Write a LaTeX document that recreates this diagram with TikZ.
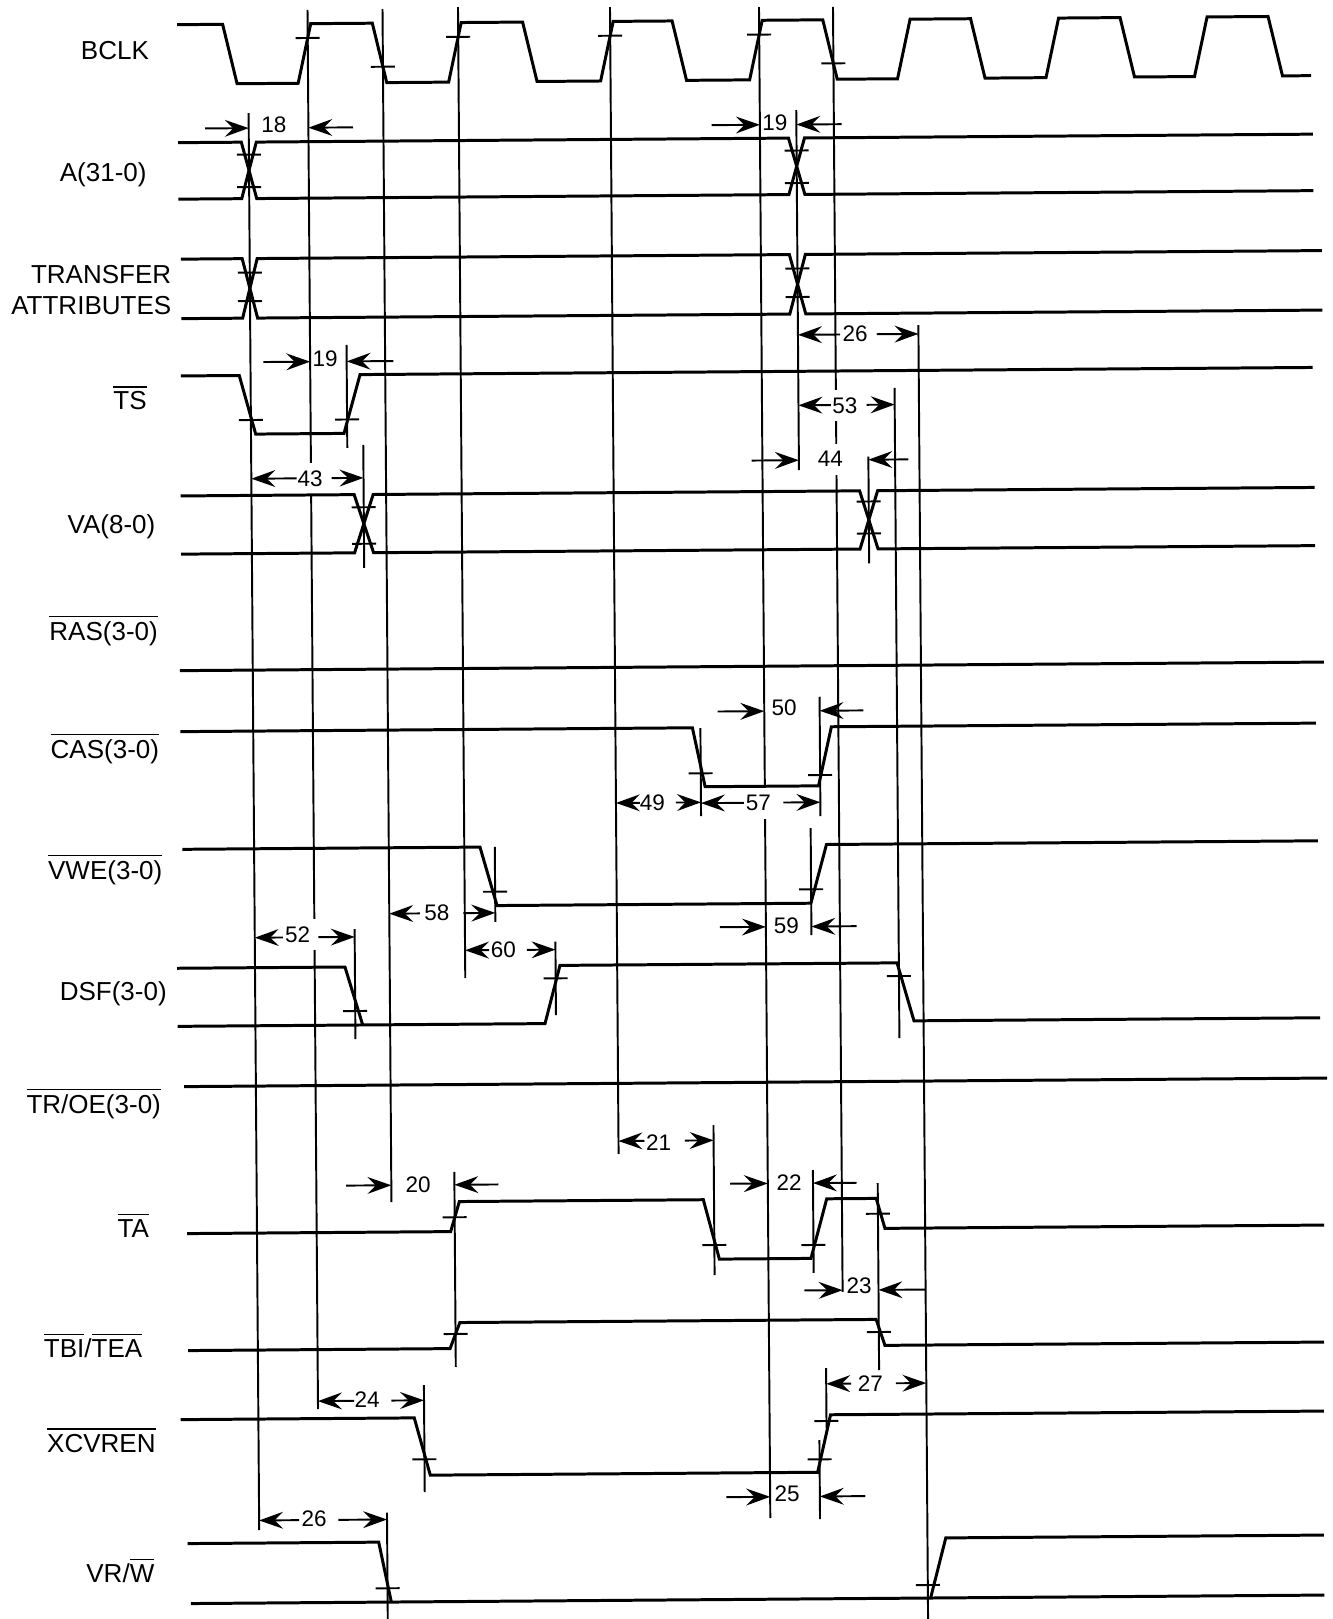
\documentclass[tikz,border=0pt]{standalone}
\usepackage{fontspec}
\setmainfont{Liberation Sans}
\usetikzlibrary{arrows.meta}
\newcommand{\ovl}[1]{$\overline{\mbox{#1}}$}
\tikzset{
  sig/.style={line width=0.85pt},
  refln/.style={line width=0.55pt},
  tickln/.style={line width=0.55pt},
  dimarr/.style={-{Stealth[length=6.8pt,width=4.8pt,inset=2.4pt]}, line width=0.55pt},
  siglbl/.style={anchor=base east, inner sep=0pt, font=\fontsize{7.4}{9}\selectfont},
  numlbl/.style={inner sep=0pt, font=\fontsize{6.4}{8}\selectfont},
  numcut/.style={numlbl, fill=white, inner xsep=2pt, inner ysep=2.2pt},
}
\begin{document}
\begin{tikzpicture}[x=0.1mm,y=-0.1mm]
\useasboundingbox (0,0) rectangle (1332,1619);

% Signal names
\node[siglbl] (bclk) at (149.6,60) {BCLK};
\node[siglbl] (addr) at (147.3,181.7) {A(31-0)};
\node[siglbl] (tattr1) at (171.9,283.3) {TRANSFER};
\node[siglbl] (tattr2) at (171.9,315) {ATTRIBUTES};
\node[siglbl] (ts) at (147.3,410) {\ovl{TS}};
\node[siglbl] (va) at (156,533.5) {VA(8-0)};
\node[siglbl] (ras) at (158.5,640.5) {\ovl{RAS(3-0)}};
\node[siglbl] (cas) at (159.8,758) {\ovl{CAS(3-0)}};
\node[siglbl] (vwe) at (163,879) {\ovl{VWE(3-0)}};
\node[siglbl] (dsf) at (167.4,1000) {DSF(3-0)};
\node[siglbl] (troe) at (161.6,1113.4) {\ovl{TR/OE(3-0)}};
\node[siglbl] (ta) at (149.6,1237.4) {\ovl{TA}};
\node[siglbl] (tbi) at (142.9,1357) {\ovl{TBI}/\ovl{TEA}};
\node[siglbl] (xcvren) at (156.3,1452) {\ovl{XCVREN}};
\node[siglbl] (vrw) at (155,1582) {VR/\ovl{W}};

\begin{scope}[rotate around={0.43:(666,810)}]
% Reference lines
\draw[refln] (253.8,110) -- (253.8,1527);
\draw[refln] (313.5,7.3) -- (313.5,1406.4);
\draw[refln] (388.5,7) -- (388.5,1200);
\draw[refln] (464,5.5) -- (464,976.5);
\draw[refln] (616,6.6) -- (616,1153.6);
\draw[refln] (765,7.7) -- (765,1518.8);
\draw[refln] (839,8.2) -- (839,1293.3);
\draw[refln] (801.5,111) -- (801.5,471);
\draw[refln] (897.7,389.7) -- (897.7,1039.8);
\draw[refln] (922,326.9) -- (922,1630);
\draw[refln] (366,442.7) -- (366,565.7);
\draw[refln] (871,458.2) -- (871,564.8);
\draw[refln] (350,342.6) -- (350,445.6);
\draw[refln] (353.7,926.7) -- (353.7,1036.7);
\draw[refln] (494.5,845.7) -- (494.5,920.7);
\draw[refln] (554.4,940.9) -- (554.4,1014.2);
\draw[refln] (701,728.3) -- (701,816.3);
\draw[refln] (820.4,697.9) -- (820.4,817.2);
\draw[refln] (810.5,829.1) -- (810.5,936.1);
\draw[refln] (711.1,1125.4) -- (711.1,1275.4);
\draw[refln] (810.2,1171.1) -- (810.2,1274.1);
\draw[refln] (451.6,1170.4) -- (451.6,1365.4);
\draw[refln] (874.9,1184.6) -- (874.9,1371.6);
\draw[refln] (419.6,1383.2) -- (419.6,1490.2);
\draw[refln] (821.9,1369.2) -- (821.9,1429.2);
\draw[refln] (814.7,1441.2) -- (814.7,1520.2);
\draw[refln] (381.7,1510.6) -- (381.7,1630);

% Timing numbers
\node[numlbl] (n18) at (279.1,122.1) {18};
\node[numlbl] (n19a) at (780.1,123.3) {19};
\node[numlbl] (n26a) at (858.6,335.6) {26};
\node[numcut] (n53) at (848,407.1) {53};
\node[numcut] (n44) at (832.9,460.4) {44};
\node[numlbl] (n19b) at (328.4,356.6) {19};
\node[numcut] (n43) at (312.5,476) {43};
\node[numcut] (n52) at (296.6,932) {52};
\node[numlbl] (n58) at (436.2,911) {58};
\node[numlbl] (n60) at (502.3,948.3) {60};
\node[numlbl] (n49) at (652.5,802.7) {49};
\node[numcut] (n57) at (758.3,804) {57};
\node[numlbl] (n50) at (784.9,708.4) {50};
\node[numlbl] (n59) at (785.5,927.1) {59};
\node[numlbl] (n21) at (656.2,1142.7) {21};
\node[numlbl] (n20) at (415.2,1182.8) {20};
\node[numlbl] (n22) at (786.4,1183.7) {22};
\node[numlbl] (n23) at (855.6,1287.2) {23};
\node[numlbl] (n27) at (866,1385) {27};
\node[numlbl] (n24) at (362.8,1397.7) {24};
\node[numlbl] (n25) at (782.1,1494.2) {25};
\node[numlbl] (n26b) at (308.9,1515.7) {26};

% Waveforms
\draw[sig] (183,21) -- (228.5,21) -- (242.5,80.5) -- (303.6,80.5) -- (316.6,21) -- (378.2,21) -- (392.2,80.5) -- (454.1,80.5) -- (467.1,21) -- (528.5,21) -- (542.5,80.5) -- (606.1,80.5) -- (619.1,21) -- (678,21) -- (692,80.5) -- (755.1,80.5) -- (768.1,21) -- (828.7,21) -- (842.7,80.5) -- (903,80.5) -- (916,21) -- (976.5,21) -- (990.5,80.5) -- (1051.5,80.5) -- (1064.5,21) -- (1126,21) -- (1140,80.5) -- (1200,80.5) -- (1213,21) -- (1274,21) -- (1288,80.5) -- (1316.5,80.5);
\draw[sig] (183,139) -- (246.3,139) -- (261.3,195.5) -- (793.5,195.5) -- (809.5,139) -- (1318,139);
\draw[sig] (183,195.5) -- (246.3,195.5) -- (261.3,139) -- (793.5,139) -- (809.5,195.5) -- (1318,195.5);
\draw[sig] (185,255.5) -- (246.3,255.5) -- (261.3,315) -- (793.5,315) -- (809.5,255.5) -- (1326,255.5);
\draw[sig] (185,315) -- (246.3,315) -- (261.3,255.5) -- (793.5,255.5) -- (809.5,315) -- (1326,315);
\draw[sig] (184,372.3) -- (242.5,372.3) -- (258.5,431) -- (346.8,431) -- (363.3,372.3) -- (1316,372.3);
\draw[sig] (183,492.3) -- (356.5,492.3) -- (375.5,550.5) -- (862,550.5) -- (880,492.3) -- (1317,492.3);
\draw[sig] (183,550.5) -- (356.5,550.5) -- (375.5,492.3) -- (862,492.3) -- (880,550.5) -- (1317,550.5);
\draw[sig] (181,667) -- (1325,667);
\draw[sig] (181,728) -- (693,728) -- (705.3,787) -- (818.7,787) -- (832,728) -- (1316.6,728);
\draw[sig] (182,845.7) -- (479.7,845.7) -- (496.3,904.3) -- (810.2,904.3) -- (826.2,845.7) -- (1317.6,845.7);
\draw[sig] (176,964.6) -- (343.8,964.6) -- (361.1,1022.7);
\draw[sig] (176,1022.7) -- (543.4,1022.7) -- (558.8,964.6) -- (895.9,964.6) -- (912.4,1022.7) -- (1318.5,1022.7);
\draw[sig] (182,1083) -- (1325,1083);
\draw[sig] (184,1230) -- (447.5,1230) -- (456.4,1200) -- (700.4,1200) -- (716,1259.5) -- (807.6,1259.5) -- (823.8,1200) -- (873.3,1200) -- (881.8,1230) -- (1321,1230);
\draw[sig] (184,1347) -- (446,1347) -- (456,1321) -- (872.3,1321) -- (880.9,1347) -- (1320,1347);
\draw[sig] (176,1416) -- (409.7,1416) -- (425.3,1473.4) -- (812.7,1473.4) -- (826,1416) -- (1319.4,1416);
\draw[sig] (182,1540) -- (373.2,1540) -- (385.4,1600);
\draw[sig] (185,1600) -- (1318.5,1600);
\draw[sig] (924.7,1600) -- (940.3,1540) -- (1318.5,1540);

% Threshold ticks
\draw[tickln] (301.5,35.3) -- (325.5,35.3);
\draw[tickln] (452,35.3) -- (476,35.3);
\draw[tickln] (604,35.3) -- (628,35.3);
\draw[tickln] (753,35.3) -- (777,35.3);
\draw[tickln] (376.5,64.6) -- (400.5,64.6);
\draw[tickln] (827,64.6) -- (851,64.6);
\draw[tickln] (241.8,151.5) -- (265.8,151.5);
\draw[tickln] (241.8,184) -- (265.8,184);
\draw[tickln] (789.5,151.5) -- (813.5,151.5);
\draw[tickln] (789.5,184) -- (813.5,184);
\draw[tickln] (241.8,269.5) -- (265.8,269.5);
\draw[tickln] (241.8,298) -- (265.8,298);
\draw[tickln] (789.5,269.5) -- (813.5,269.5);
\draw[tickln] (789.5,298) -- (813.5,298);
\draw[tickln] (241.8,416.9) -- (265.8,416.9);
\draw[tickln] (338,417.1) -- (362,417.1);
\draw[tickln] (354,505) -- (378,505);
\draw[tickln] (354,541.5) -- (378,541.5);
\draw[tickln] (859,503) -- (883,503);
\draw[tickln] (859,535) -- (883,535);
\draw[tickln] (689,773.6) -- (713,773.6);
\draw[tickln] (808.4,776.2) -- (832.4,776.2);
\draw[tickln] (482.5,890.4) -- (506.5,890.4);
\draw[tickln] (798.5,890.4) -- (822.5,890.4);
\draw[tickln] (341.7,1008.7) -- (365.7,1008.7);
\draw[tickln] (542.4,977.5) -- (566.4,977.5);
\draw[tickln] (885.7,977.8) -- (909.7,977.8);
\draw[tickln] (439.6,1215.7) -- (463.6,1215.7);
\draw[tickln] (699.1,1245.4) -- (723.1,1245.4);
\draw[tickln] (798.2,1246.1) -- (822.2,1246.1);
\draw[tickln] (862.9,1215.3) -- (886.9,1215.3);
\draw[tickln] (439.6,1332.4) -- (463.6,1332.4);
\draw[tickln] (862.9,1333.6) -- (886.9,1333.6);
\draw[tickln] (407.6,1457.5) -- (431.6,1457.5);
\draw[tickln] (802.7,1460.5) -- (826.7,1460.5);
\draw[tickln] (809.9,1422.2) -- (833.9,1422.2);
\draw[tickln] (369.7,1586.2) -- (393.7,1586.2);
\draw[tickln] (910,1587) -- (934,1587);

% Timing arrows
\draw[dimarr] (210.1,125) -- (253.8,125);
\draw[dimarr] (358.1,125) -- (313.5,125);
\draw[dimarr] (716.8,125.5) -- (765,125.5);
\draw[dimarr] (846.8,125.5) -- (801.5,125.5);
\draw[dimarr] (843.6,335.8) -- (801.5,335.8);
\draw[dimarr] (880.3,335.8) -- (922,335.8);
\draw[dimarr] (834,406.3) -- (801.5,406.3);
\draw[dimarr] (869.7,406.3) -- (897.7,406.3);
\draw[dimarr] (754.3,461.2) -- (801.5,461.2);
\draw[dimarr] (910.9,461.2) -- (871,461.2);
\draw[dimarr] (266.7,359) -- (313.5,359);
\draw[dimarr] (396.7,359) -- (350,359);
\draw[dimarr] (299.2,475.6) -- (253.8,475.6);
\draw[dimarr] (334.2,475.6) -- (366,475.6);
\draw[dimarr] (282,934.6) -- (253.8,934.6);
\draw[dimarr] (317.3,934.6) -- (353.7,934.6);
\draw[dimarr] (419.2,911.6) -- (388.5,911.6);
\draw[dimarr] (462.5,911.6) -- (494.5,911.6);
\draw[dimarr] (488,948.8) -- (464,948.8);
\draw[dimarr] (525.7,948.8) -- (554.4,948.8);
\draw[dimarr] (640,802.6) -- (616,802.6);
\draw[dimarr] (676,802.6) -- (701,802.6);
\draw[dimarr] (744,803.4) -- (701,803.4);
\draw[dimarr] (783.3,803.4) -- (820.4,803.4);
\draw[dimarr] (718.4,711.9) -- (765,711.9);
\draw[dimarr] (864,711.9) -- (820.4,711.9);
\draw[dimarr] (719.1,927.6) -- (765,927.6);
\draw[dimarr] (855.8,927.6) -- (810.5,927.6);
\draw[dimarr] (642,1140.7) -- (616,1140.7);
\draw[dimarr] (682.5,1140.7) -- (711.1,1140.7);
\draw[dimarr] (343.2,1183.2) -- (388.5,1183.2);
\draw[dimarr] (495.5,1183.2) -- (451.6,1183.2);
\draw[dimarr] (727.2,1184.2) -- (765,1184.2);
\draw[dimarr] (853.8,1184.2) -- (810.2,1184.2);
\draw[dimarr] (800.8,1291.5) -- (839,1291.5);
\draw[dimarr] (922,1291.5) -- (874.9,1291.5);
\draw[dimarr] (846.7,1385) -- (821.9,1385);
\draw[dimarr] (891.5,1385) -- (922,1385);
\draw[dimarr] (349.6,1398.5) -- (313.5,1398.5);
\draw[dimarr] (386.9,1398.5) -- (419.6,1398.5);
\draw[dimarr] (721.3,1497.6) -- (765,1497.6);
\draw[dimarr] (860.1,1497.6) -- (814.7,1497.6);
\draw[dimarr] (293.7,1517.4) -- (253.8,1517.4);
\draw[dimarr] (333.1,1517.4) -- (381.7,1517.4);
\end{scope}
\end{tikzpicture}
\end{document}
